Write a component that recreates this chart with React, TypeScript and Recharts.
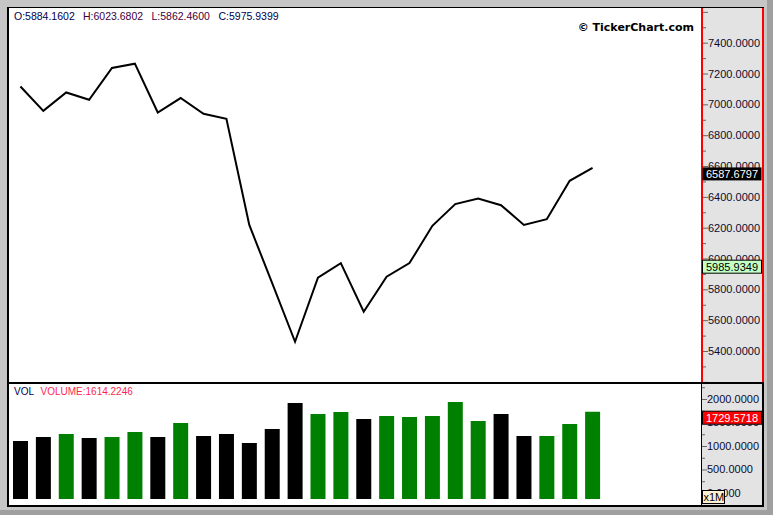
import React from "react";
import { LineChart, Line, BarChart, Bar, Cell, XAxis, YAxis, ReferenceLine } from "recharts";

// closing prices, one per period
const closes = [
  7116, 6958, 7077, 7030, 7236, 7264, 6947, 7041, 6939, 6906, 6218, 5840, 5460,
  5876, 5970, 5655, 5882, 5970, 6212, 6353, 6389, 6346, 6218, 6255, 6504, 6587.6797,
];

// volume in millions
const volumes = [
  1106, 1191, 1255, 1170, 1191, 1298, 1191, 1489, 1213, 1255, 1064, 1362, 1915,
  1681, 1723, 1574, 1638, 1617, 1638, 1936, 1532, 1681, 1213, 1213, 1468, 1729.5718,
];

// true = up period (green bar)
const upPeriods = [
  false, false, true, false, true, true, false, true, false, false, false, false, false,
  true, true, false, true, true, true, true, true, false, false, true, true, true,
];

const priceTicks = [
  5200, 5300, 5400, 5500, 5600, 5700, 5800, 5900, 6000, 6100, 6200, 6300, 6400,
  6500, 6600, 6700, 6800, 6900, 7000, 7100, 7200, 7300, 7400, 7500, 7600,
];
const priceLabels = [5400, 5600, 5800, 6000, 6200, 6400, 6600, 6800, 7000, 7200, 7400];
const volumeTicks = [0, 250, 500, 750, 1000, 1250, 1500, 1750, 2000, 2250];
const volumeLabels = [0, 500, 1000, 1500, 2000];

const ohlcLabels = ["O:5884.1602", "H:6023.6802", "L:5862.4600", "C:5975.9399"];
const volumeLabel = "VOLUME:1614.2246";
const lastClose = 6587.6797;
const avgLevel = 5985.9349;
const lastVolume = 1729.5718;

const PRICE_DOMAIN = [5199, 7625];
const VOL_DOMAIN = [-127.7, 2319];

const rows = closes.map((c, i) => ({ idx: i, close: c, vol: volumes[i], up: upPeriods[i] }));

const FONT = "'Liberation Sans', Arial, sans-serif";
const AXIS_TEXT = "#0c0c2c";
const X_PAD = { left: 0, right: 97 };

function PriceTick({ x, y, payload }: any) {
  const v = payload.value;
  const labelled = priceLabels.includes(v);
  return (
    <g>
      <line x1={x + 2} x2={x + (v % 200 === 0 ? 7 : 5)} y1={y + 0.5} y2={y + 0.5} stroke="#666" />
      {labelled && (
        <text x={x + 7} y={y + 4} fontSize={11} fontFamily={FONT} fill={AXIS_TEXT}>
          {v.toFixed(4)}
        </text>
      )}
    </g>
  );
}

function VolumeTick({ x, y, payload }: any) {
  const v = payload.value;
  const labelled = volumeLabels.includes(v);
  return (
    <g>
      <line x1={x + 1} x2={x + (labelled ? 6 : 4)} y1={y + 0.5} y2={y + 0.5} stroke="#666" />
      {labelled && (
        <text x={x + 6} y={y + 4} fontSize={11} fontFamily={FONT} fill={AXIS_TEXT}>
          {v.toFixed(4)}
        </text>
      )}
    </g>
  );
}

function Badge({ viewBox, text, fill, color, stroke }: any) {
  const x = viewBox.x + viewBox.width + 1;
  const y = viewBox.y;
  return (
    <g>
      <rect x={x + 0.5} y={y - 0.5} width={59} height={13} fill={fill} stroke={stroke || "none"} />
      <text x={x + 30} y={y + 10} textAnchor="middle" fontSize={11} fontFamily={FONT} fill={color}>
        {text}
      </text>
    </g>
  );
}

const abs = (left: number, top: number, width: number, height: number, extra: any = {}) => ({
  position: "absolute" as const,
  left,
  top,
  width,
  height,
  ...extra,
});

export default function App() {
  return (
    <div style={abs(0, 0, 773, 515, { background: "#c6c6c6", overflow: "hidden" })}>
      <div style={abs(767, 0, 6, 515, { background: "#a0a0a0" })} />
      <div style={abs(0, 510, 773, 5, { background: "#a0a0a0" })} />
      <div style={abs(7, 7, 757, 500, { background: "#000" })} />
      <div style={abs(9, 8, 692, 374, { background: "#fff" })} />
      <div
        style={abs(701, 8, 63, 374, {
          background: "#e3e3e3",
          borderLeft: "2px solid #ff0000",
          borderRight: "2px solid #ff0000",
          boxSizing: "border-box",
        })}
      />
      <div style={abs(9, 384, 692, 121, { background: "#fff" })} />
      <div style={abs(702, 384, 60, 121, { background: "#e3e3e3" })} />

      {/* price panel */}
      <div style={abs(9, 8, 754, 374)}>
        <LineChart width={754} height={374} data={rows} margin={{ top: 0, right: 0, bottom: 0, left: 0 }}>
          <XAxis dataKey="idx" hide scale="band" padding={X_PAD} />
          <YAxis
            orientation="right"
            width={62}
            domain={PRICE_DOMAIN}
            allowDataOverflow
            ticks={priceTicks}
            interval={0}
            axisLine={false}
            tickLine={false}
            tickSize={0}
            tickMargin={0}
            tick={<PriceTick />}
          />
          <Line type="linear" dataKey="close" stroke="#000" strokeWidth={2} dot={false} isAnimationActive={false} />
        </LineChart>
      </div>
      {/* price badges, drawn above the axis labels */}
      <div style={abs(9, 8, 754, 374)}>
        <LineChart width={754} height={374} data={rows} margin={{ top: 0, right: 62, bottom: 0, left: 0 }}>
          <XAxis dataKey="idx" hide scale="band" padding={X_PAD} />
          <YAxis hide domain={PRICE_DOMAIN} allowDataOverflow />
          <ReferenceLine
            y={lastClose}
            stroke="none"
            label={<Badge text={lastClose.toFixed(4)} fill="#000" color="#fff" />}
          />
          <ReferenceLine
            y={avgLevel}
            stroke="none"
            label={<Badge text={avgLevel.toFixed(4)} fill="#c4ffc4" color="#000" stroke="#000" />}
          />
        </LineChart>
      </div>

      {/* volume panel */}
      <div style={abs(9, 384, 754, 121)}>
        <BarChart width={754} height={121} data={rows} margin={{ top: 0, right: 0, bottom: 6, left: 0 }}>
          <XAxis dataKey="idx" hide padding={X_PAD} />
          <YAxis
            orientation="right"
            width={62}
            domain={VOL_DOMAIN}
            allowDataOverflow
            ticks={volumeTicks}
            interval={0}
            axisLine={false}
            tickLine={false}
            tickSize={0}
            tickMargin={0}
            tick={<VolumeTick />}
          />
          <Bar dataKey={(d: any) => [VOL_DOMAIN[0], d.vol]} barSize={15} isAnimationActive={false}>
            {rows.map((r) => (
              <Cell key={r.idx} fill={r.up ? "#008000" : "#000000"} />
            ))}
          </Bar>
        </BarChart>
      </div>
      <div style={abs(9, 384, 754, 121)}>
        <BarChart width={754} height={121} data={rows} margin={{ top: 0, right: 62, bottom: 6, left: 0 }}>
          <XAxis dataKey="idx" hide padding={X_PAD} />
          <YAxis hide domain={VOL_DOMAIN} allowDataOverflow />
          <ReferenceLine
            y={lastVolume}
            stroke="none"
            label={<Badge text={lastVolume.toFixed(4)} fill="#ff0000" color="#fff" stroke="#000" />}
          />
        </BarChart>
      </div>

      <svg style={abs(0, 0, 773, 515, { pointerEvents: "none" })} width={773} height={515}>
        <g fontFamily={FONT} fontSize={10.5}>
          <text x={14} y={20} fill="#000050">{ohlcLabels[0]}</text>
          <text x={83} y={20} fill="#400040">{ohlcLabels[1]}</text>
          <text x={151.5} y={20} fill="#400040">{ohlcLabels[2]}</text>
          <text x={218.5} y={20} fill="#000050">{ohlcLabels[3]}</text>
        </g>
        <text x={694} y={31} textAnchor="end" fontFamily="'DejaVu Sans', Verdana, sans-serif" fontWeight="bold" fontSize={11} fill="#000">
          © TickerChart.com
        </text>
        <g fontFamily={FONT} fontSize={10}>
          <text x={14} y={395} fill="#000050">VOL</text>
          <text x={40.5} y={395} fill="#ff1f4f">{volumeLabel}</text>
        </g>
        <rect x={702.5} y={490.5} width={22} height={13} fill="#fff0d2" stroke="#000" />
        <text x={703.5} y={501} fontFamily={FONT} fontSize={11} fill="#000">x1M</text>
      </svg>
    </div>
  );
}
